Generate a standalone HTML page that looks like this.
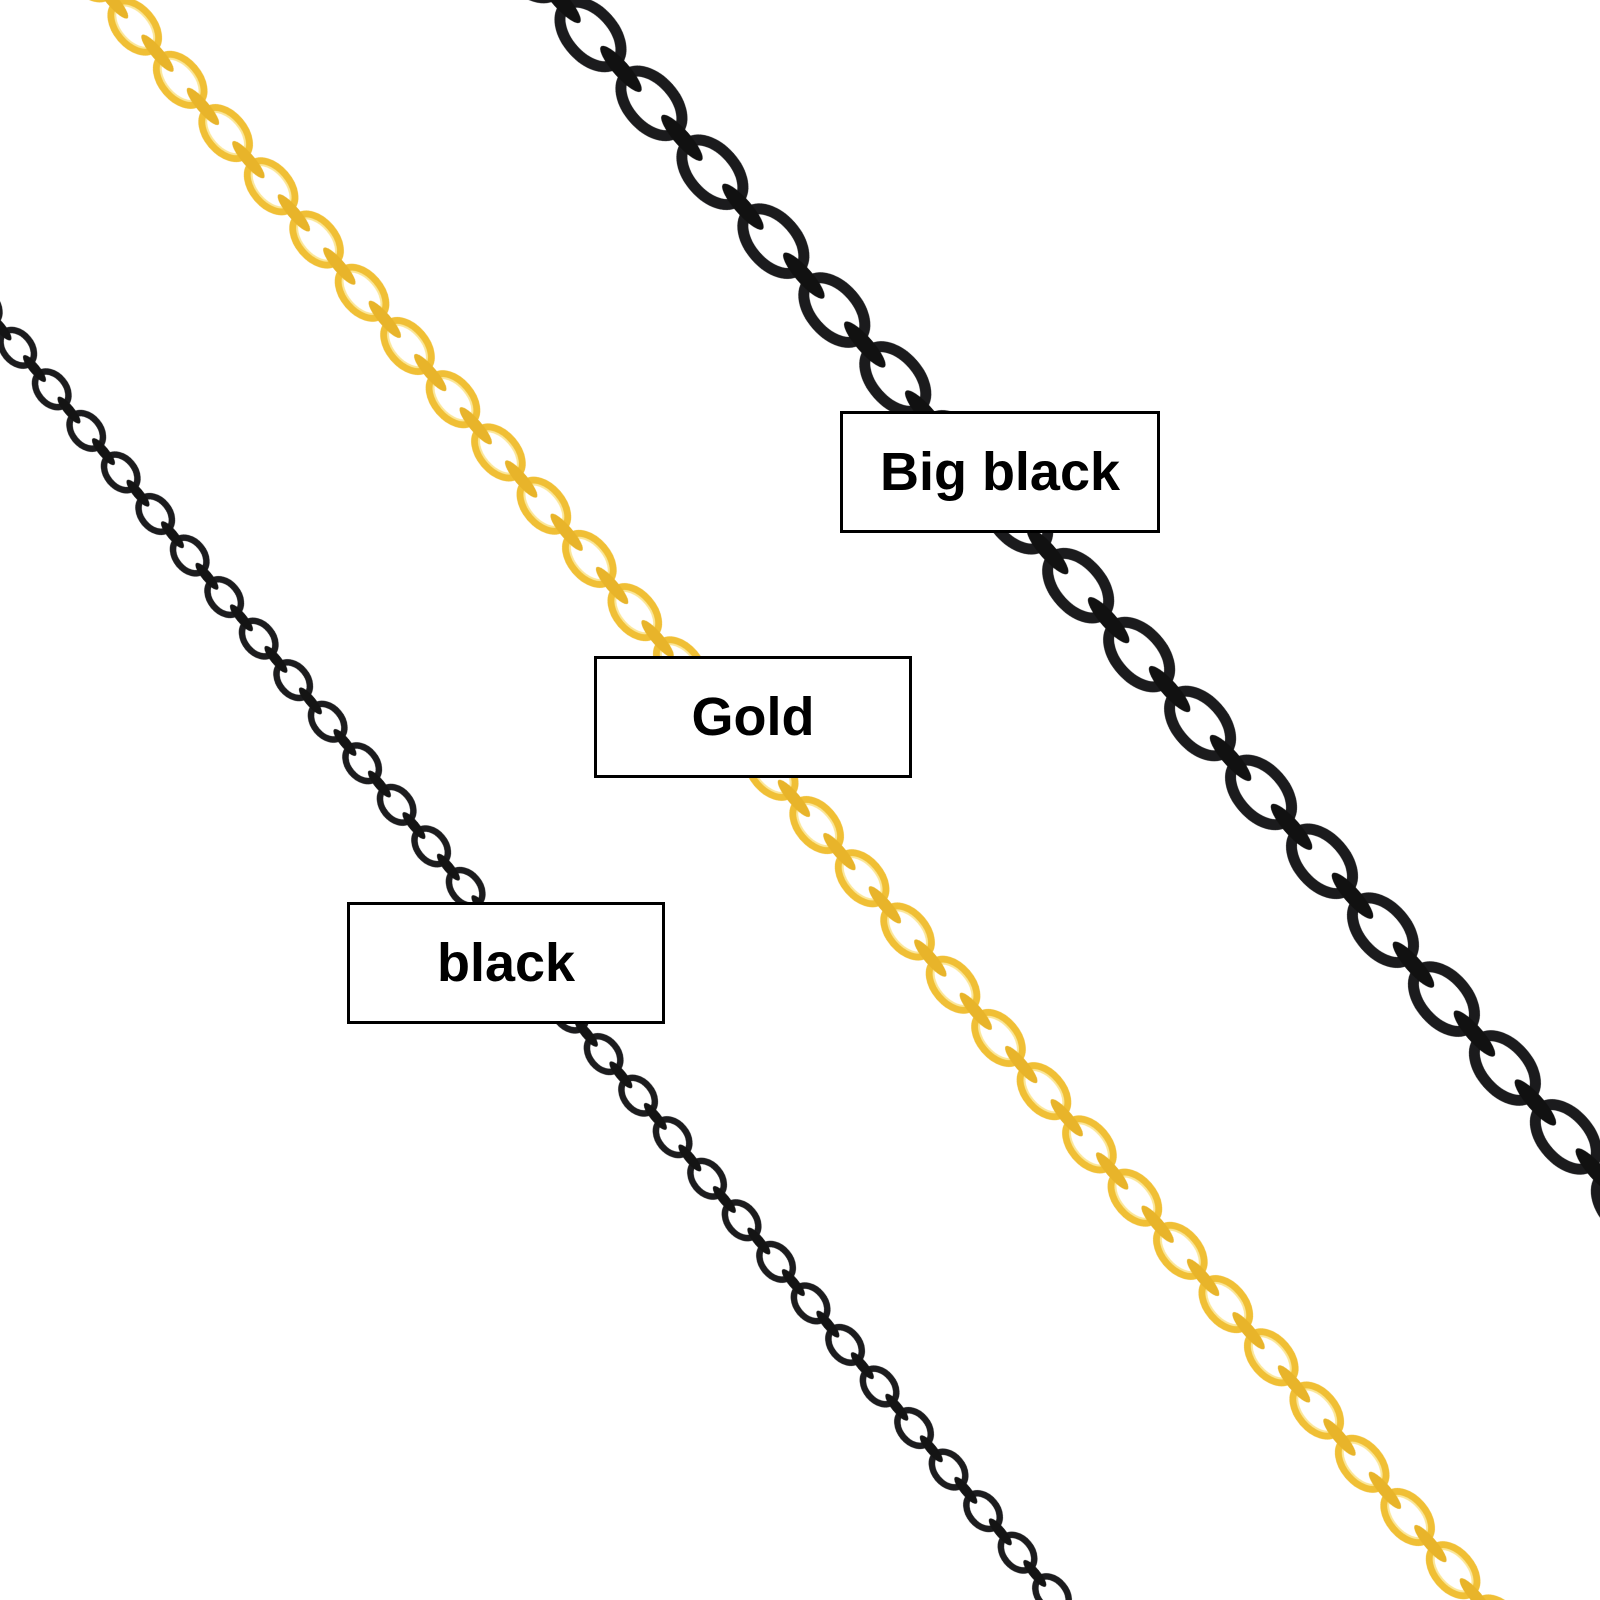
<!DOCTYPE html>
<html><head><meta charset="utf-8"><style>
html,body{margin:0;padding:0;background:#fff;width:1600px;height:1600px;overflow:hidden;}
.wrap{position:relative;width:1600px;height:1600px;overflow:hidden;background:#fff;}
svg{position:absolute;left:0;top:0;display:block;}
.lbl{position:absolute;box-sizing:border-box;border:3px solid #000;background:#fff;display:flex;align-items:center;justify-content:center;font-family:"Liberation Sans",Arial,sans-serif;font-size:54px;font-weight:bold;color:#000;}
</style></head><body><div class="wrap">
<svg width="1600" height="1600" viewBox="0 0 1600 1600">
<defs>
<pattern id="pb" patternUnits="userSpaceOnUse" x="0" y="-40" width="92" height="80">
  <ellipse cx="46" cy="40" rx="38" ry="23" fill="none" stroke="#1b1b1d" stroke-width="11"/>
  <ellipse cx="0" cy="40" rx="30" ry="8" fill="#111"/>
  <ellipse cx="92" cy="40" rx="30" ry="8" fill="#111"/>
</pattern>
<pattern id="pg" patternUnits="userSpaceOnUse" x="0" y="-30" width="70" height="60">
  <ellipse cx="35" cy="30" rx="29" ry="18" fill="none" stroke="#f0bf35" stroke-width="8"/>
  <ellipse cx="35" cy="30" rx="25" ry="14" fill="none" stroke="#fbe79a" stroke-width="2"/>
  <ellipse cx="0" cy="30" rx="24" ry="6" fill="#e8b42a"/>
  <ellipse cx="70" cy="30" rx="24" ry="6" fill="#e8b42a"/>
</pattern>
<pattern id="ps" patternUnits="userSpaceOnUse" x="0" y="-24" width="54" height="48">
  <ellipse cx="27" cy="24" rx="20" ry="14" fill="none" stroke="#1c1c1e" stroke-width="6.5"/>
  <ellipse cx="0" cy="24" rx="17" ry="5" fill="#141414"/>
  <ellipse cx="54" cy="24" rx="17" ry="5" fill="#141414"/>
</pattern>
</defs>
<g transform="translate(560,0) rotate(48.5)"><rect x="-200" y="-40" width="2000" height="80" fill="url(#pb)"/></g>
<g transform="translate(112,0) rotate(49.5)"><rect x="-200" y="-30" width="2400" height="60" fill="url(#pg)"/></g>
<g transform="translate(0,327) rotate(50.3)"><rect x="-200" y="-24" width="2200" height="48" fill="url(#ps)"/></g>
</svg>
<div class="lbl" style="left:840px;top:411px;width:320px;height:122px;">Big black</div>
<div class="lbl" style="left:594px;top:656px;width:318px;height:122px;">Gold</div>
<div class="lbl" style="left:347px;top:902px;width:318px;height:122px;">black</div>
</div></body></html>
